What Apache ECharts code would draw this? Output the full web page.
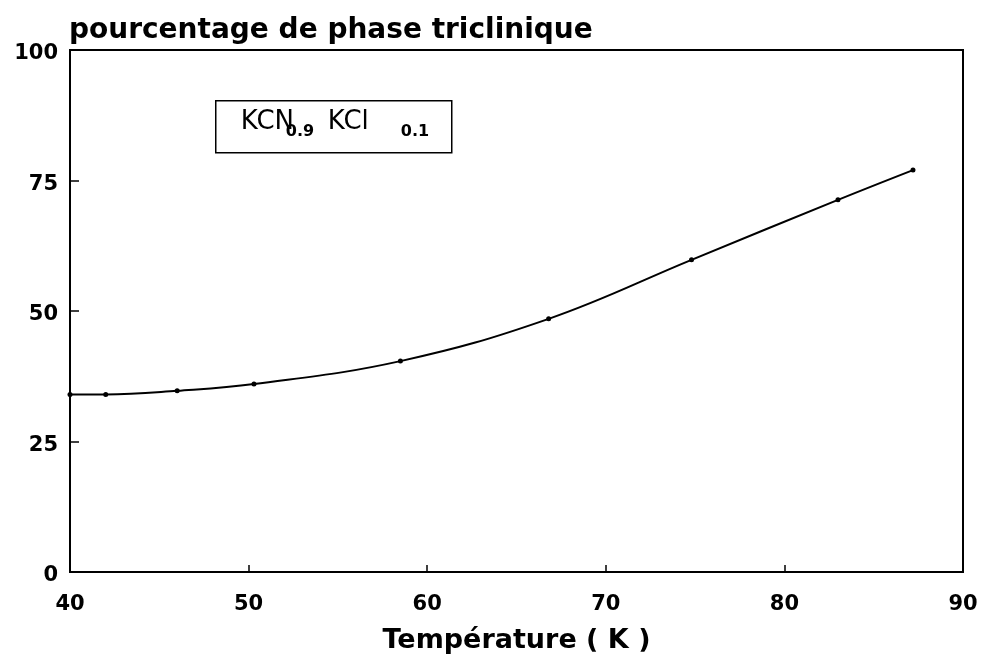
<!DOCTYPE html>
<html>
<head>
<meta charset="utf-8">
<script src="https://cdn.jsdelivr.net/npm/echarts@6/dist/echarts.min.js"></script>
<style>html,body{margin:0;padding:0;background:#fff;}#c{width:986px;height:660px;}</style>
</head>
<body>
<div id="c"></div>
<script>
var temperature = [40, 42, 46, 50.3, 58.5, 66.8, 74.8, 83.0, 87.2];
var percentTriclinic = [34.0, 34.0, 34.7, 36.0, 40.4, 48.5, 59.8, 71.3, 77.0];
var xTicks = [40, 50, 60, 70, 80, 90];
var yTicks = [0, 25, 50, 75, 100];
var titleText = 'pourcentage de phase triclinique';
var xName = 'Température ( K )';
var labelParts = ['KCN', '0.9', 'KCl', '0.1'];

var FONT = '"DejaVu Sans", Verdana, sans-serif';
var chart = echarts.init(document.getElementById('c'));
var data = temperature.map(function (t, i) { return [t, percentTriclinic[i]]; });

function mainText(txt, x) {
  return { type: 'text', x: x, y: 21, style: { text: txt, fontFamily: FONT, fontSize: 26, fontWeight: 'normal', fill: '#000', verticalAlign: 'middle', align: 'left' } };
}
function subText(txt, x) {
  return { type: 'text', x: x, y: 31, style: { text: txt, fontFamily: FONT, fontSize: 16, fontWeight: 'bold', fill: '#000', verticalAlign: 'middle', align: 'left' } };
}

chart.setOption({
  animation: false,
  backgroundColor: '#fff',
  grid: { left: 70, right: 23, top: 50, bottom: 88, show: true, borderColor: '#000', borderWidth: 2, backgroundColor: 'transparent' },
  title: {
    text: titleText, left: 64, top: 12,
    textStyle: { fontFamily: FONT, fontWeight: 'bold', fontSize: 28, color: '#000' }
  },
  xAxis: {
    type: 'value', min: xTicks[0], max: xTicks[xTicks.length - 1], interval: 10,
    name: xName, nameLocation: 'middle', nameGap: 55,
    nameTextStyle: { fontFamily: FONT, fontWeight: 'bold', fontSize: 27, color: '#000' },
    axisLine: { show: true, lineStyle: { color: '#000', width: 2 } },
    axisTick: { show: true, inside: true, length: 7, lineStyle: { color: '#000', width: 1.5 } },
    axisLabel: { fontFamily: FONT, fontWeight: 'bold', fontSize: 21, color: '#000', margin: 22 },
    splitLine: { show: false }
  },
  yAxis: {
    type: 'value', min: yTicks[0], max: yTicks[yTicks.length - 1], interval: 25,
    axisLine: { show: true, lineStyle: { color: '#000', width: 2 } },
    axisTick: { show: true, inside: true, length: 9, lineStyle: { color: '#000', width: 1.5 } },
    axisLabel: { fontFamily: FONT, fontWeight: 'bold', fontSize: 21, color: '#000', margin: 12,
      verticalAlign: 'top', lineHeight: 24, padding: [-8, 0, 0, 0] },
    splitLine: { show: false }
  },
  series: [{
    type: 'line', data: data, smooth: 0.4,
    symbol: 'circle', symbolSize: 5,
    itemStyle: { color: '#000' },
    lineStyle: { color: '#000', width: 2 }
  }],
  graphic: [{
    type: 'group', left: 215, top: 100,
    children: [
      { type: 'rect', shape: { x: 0, y: 0, width: 236, height: 52 }, style: { fill: '#fff', stroke: '#000', lineWidth: 1.5 } },
      mainText(labelParts[0], 25),
      subText(labelParts[1], 70),
      mainText(labelParts[2], 112),
      subText(labelParts[3], 185)
    ]
  }]
});
</script>
</body>
</html>
